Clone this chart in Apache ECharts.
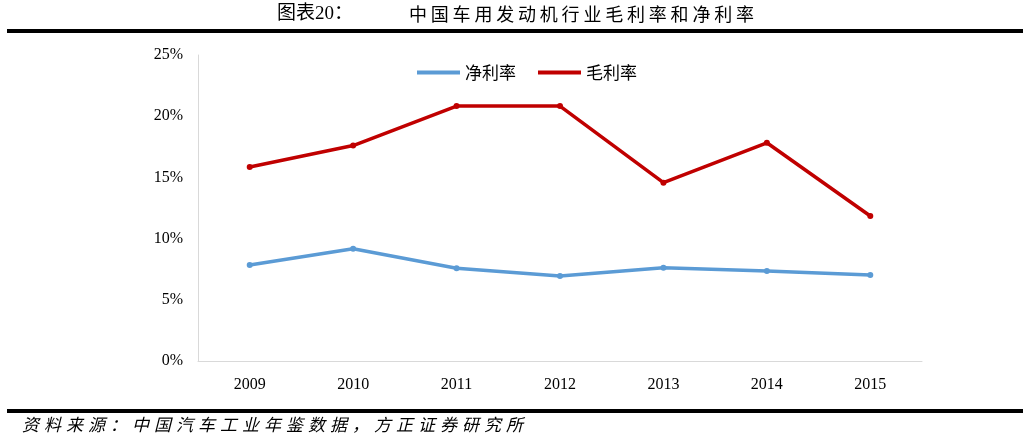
<!DOCTYPE html>
<html><head><meta charset="utf-8">
<script src="https://cdn.jsdelivr.net/npm/echarts@6/dist/echarts.min.js"></script>
<style>html,body{margin:0;padding:0;background:#fff}#c{width:1028px;height:442px}</style>
</head><body><div id="c"></div>
<script>
var categories = ['2009','2010','2011','2012','2013','2014','2015'];
var netMargin = [7.84, 9.17, 7.57, 6.94, 7.62, 7.35, 7.03];
var grossMargin = [15.85, 17.6, 20.83, 20.83, 14.57, 17.83, 11.85];
var yTicks = [0, 5, 10, 15, 20, 25];
var titleLabel = '图表20：';
var titleText = '中国车用发动机行业毛利率和净利率';
var sourceText = '资料来源：中国汽车工业年鉴数据，方正证券研究所';

var chart = echarts.init(document.getElementById('c'));
var serif = '"Liberation Serif","DejaVu Serif",serif';
var cjk = '"Noto Sans CJK SC","Noto Sans CJK TC",sans-serif';

function spacedText(str, x0, step, y, font) {
  var out = [];
  for (var i = 0; i < str.length; i++) {
    out.push({type: 'text', x: x0 + i * step, y: y,
      style: {text: str[i], font: font, fill: '#000', textAlign: 'left', textVerticalAlign: 'middle'}});
  }
  return out;
}

var graphics = [
  {type: 'text', x: 277, y: 14, style: {text: titleLabel, font: '19px ' + serif + ',' + cjk, fill: '#000', textVerticalAlign: 'middle'}},
  {type: 'rect', shape: {x: 7, y: 29, width: 1016, height: 4}, style: {fill: '#000'}},
  {type: 'rect', shape: {x: 7, y: 409, width: 1016, height: 4}, style: {fill: '#000'}}
];
graphics = graphics.concat(spacedText(titleText, 409, 21.8, 14, '18px ' + cjk));
graphics = graphics.concat(spacedText(sourceText, 22, 22, 425, 'italic 17px ' + cjk));

chart.setOption({
  animation: false,
  backgroundColor: '#fff',
  grid: {left: 198, right: 106, top: 55, bottom: 81},
  legend: {
    top: 59, left: 412, itemWidth: 43, itemHeight: 4, itemGap: 22,
    textStyle: {fontFamily: cjk, fontSize: 17, color: '#000'},
    data: [{name: '净利率', icon: 'rect'}, {name: '毛利率', icon: 'rect'}]
  },
  xAxis: {
    type: 'category', data: categories, boundaryGap: true,
    axisLine: {lineStyle: {color: '#d9d9d9', width: 1}},
    axisTick: {show: false},
    axisLabel: {fontFamily: serif, fontSize: 16, color: '#000', margin: 16}
  },
  yAxis: {
    type: 'value', min: yTicks[0], max: yTicks[yTicks.length - 1], interval: 5,
    axisLine: {show: true, lineStyle: {color: '#d9d9d9', width: 1}},
    axisTick: {show: false},
    splitLine: {show: false},
    axisLabel: {fontFamily: serif, fontSize: 16, color: '#000', margin: 15, formatter: '{value}%'}
  },
  series: [
    {name: '净利率', type: 'line', data: netMargin, symbol: 'circle', symbolSize: 6,
     itemStyle: {color: '#5b9bd5'}, lineStyle: {color: '#5b9bd5', width: 3.5}},
    {name: '毛利率', type: 'line', data: grossMargin, symbol: 'circle', symbolSize: 6,
     itemStyle: {color: '#c00000'}, lineStyle: {color: '#c00000', width: 3.5}}
  ],
  graphic: graphics
});
</script></body></html>
